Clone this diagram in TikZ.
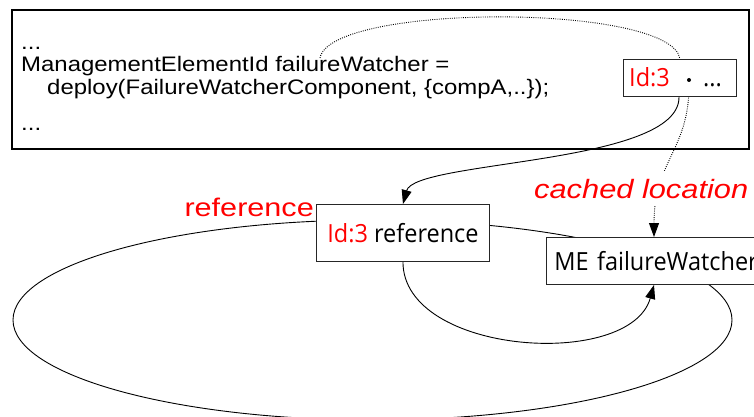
\documentclass[tikz,border=0pt]{standalone}
\usepackage{graphicx}
\usepackage{fontspec}
\setmainfont{Liberation Sans}
\newfontfamily\codefont[FakeStretch=1.14]{Liberation Sans}
\newfontfamily\reffont[FakeStretch=1.2]{Liberation Sans}
\newfontfamily\cachefont{Liberation Sans}
\newfontfamily\boxfont[FakeStretch=0.94]{Open Sans}
\usetikzlibrary{arrows.meta,calc}
\definecolor{lblred}{RGB}{255,0,0}
\pgfdeclarelayer{background}
\pgfsetlayers{background,main}
\begin{document}
\begin{tikzpicture}[x=1pt,y=-1pt,
  codetxt/.style={anchor=base west, inner sep=0pt, font=\codefont\fontsize{21}{21}\selectfont},
  boxtxt/.style={font=\boxfont\fontsize{25}{25}\selectfont},
  frame/.style={draw=black!85, line width=0.9pt, fill=white},
  link/.style={line width=0.9pt},
  dotline/.style={line width=0.9pt, dash pattern=on 0.9pt off 1.3pt},
  tip/.style={-{Triangle[length=14pt,width=10pt]}}
]
\useasboundingbox (0,0) rectangle (754,417);
\clip (0,0) rectangle (754,417);

% code frame
\node (code) [draw, line width=1.8pt, anchor=north west, minimum width=737pt,
  minimum height=139pt, inner sep=0pt] at (11,9) {};
\node (c1) [codetxt] at (21,50) {...};
\node (c2) [codetxt] at (21,72) {ManagementElementId failureWatcher =};
\node (c3) [codetxt] at (47,95) {deploy(FailureWatcherComponent, \{compA,..\});};
\node (c4) [codetxt] at (21,130) {...};
\coordinate (fw) at (320,58);

% small id box
\node (idbox) [frame, anchor=north west, minimum width=113pt, minimum height=37pt,
  inner sep=0pt] at (623,59) {};
\node (idtxt) [boxtxt, text=lblred, anchor=base west, inner sep=0pt] at (629,87) {Id:3};
\node (dot) [circle, fill=black, inner sep=0pt, minimum size=4pt] at (689,80) {};
\node (idmore) [boxtxt, anchor=base west, inner sep=0pt] at (703,87) {...};

% lower boxes
\node (refbox) [frame, boxtxt, anchor=north west, minimum width=173pt,
  minimum height=57pt, inner sep=0pt] at (316,204) {\textcolor{lblred}{Id:3} reference};
\node (me) [frame, boxtxt, anchor=north west, minimum width=230pt, minimum height=47pt,
  text width=214pt, align=left, inner xsep=8pt, inner ysep=0pt] at (546,237) {ME failureWatcher};

% labels
\node (reflbl) [anchor=base east, inner sep=0pt, text=lblred,
  font=\reffont\fontsize{25.5}{25.5}\selectfont] at (314,216) {reference};
\node (cachelbl) [anchor=base west, fill=white, inner xsep=3pt, inner ysep=8pt, text=lblred,
  font=\cachefont\itshape\fontsize{26.5}{26.5}\selectfont] at (531,198)
  {\resizebox{214pt}{\height}{cached location}};

\begin{pgfonlayer}{background}
  % ring of references
  \draw[link] (372.5,320) ellipse [x radius=359.5, y radius=100];
  % dotted arc from the variable to the id
  \draw[dotline] (fw) .. controls (330,3) and (672,3) .. ($(idbox.north west)+(57,0)$);
  % id resolves to reference
  \draw[link,tip] ($(idbox.south west)+(56,0)$) .. controls (680,165) and (415,160) .. (refbox.north);
  % cached location
  \draw[dotline,tip] (dot) .. controls (690,150) and (654,160) .. ($(me.north west)+(108,0)$);
  % reference to ME
  \draw[link,tip] (refbox.south) .. controls (403,355) and (630,370) .. ($(me.south west)+(108,0)$);
\end{pgfonlayer}
\end{tikzpicture}
\end{document}
